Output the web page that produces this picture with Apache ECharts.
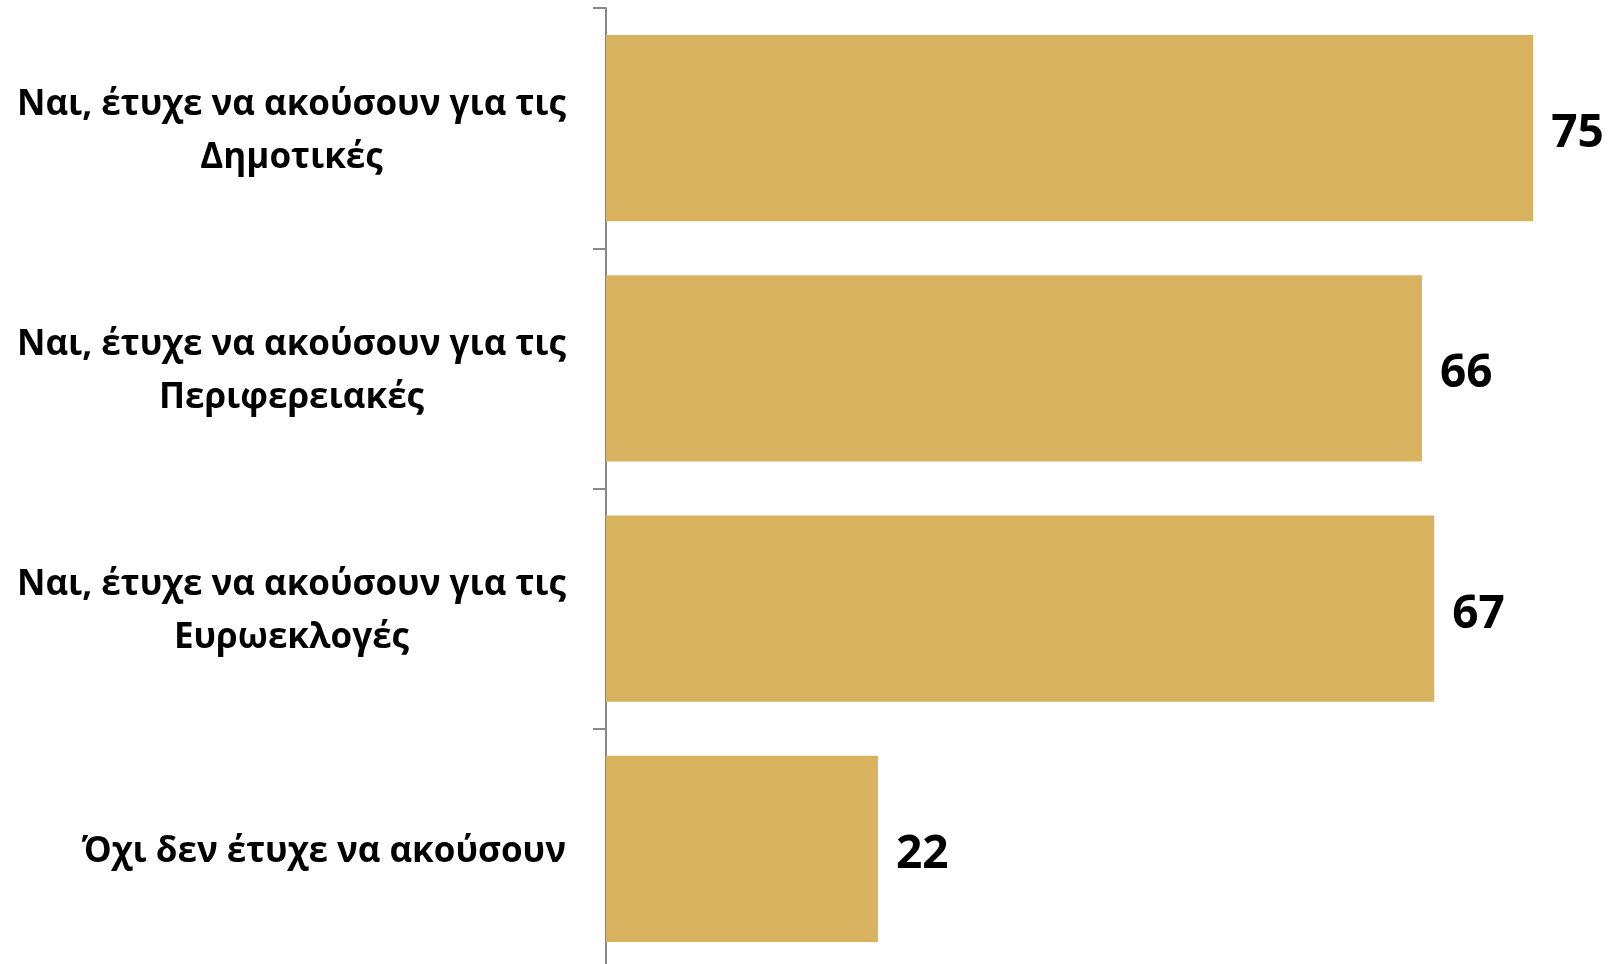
<!DOCTYPE html>
<html>
<head>
<meta charset="utf-8">
<script src="https://cdn.jsdelivr.net/npm/echarts@6/dist/echarts.min.js"></script>
<style>
html,body{margin:0;padding:0;background:#fff;overflow:hidden;width:1612px;height:964px;}
#chart{width:1612px;height:980px;}
</style>
</head>
<body>
<div id="chart"></div>
<script>
const categories = [
  'Ναι, έτυχε να ακούσουν για τις\nΔημοτικές',
  'Ναι, έτυχε να ακούσουν για τις\nΠεριφερειακές',
  'Ναι, έτυχε να ακούσουν για τις\nΕυρωεκλογές',
  'Όχι δεν έτυχε να ακούσουν'
];
const values = [75, 66, 67, 22];

const chart = echarts.init(document.getElementById('chart'));
chart.setOption({
  animation: false,
  backgroundColor: '#ffffff',
  grid: { left: 606, right: 17, top: 8, height: 961, containLabel: false },
  xAxis: {
    type: 'value', min: 0, max: 80, show: false
  },
  yAxis: {
    type: 'category',
    inverse: true,
    data: categories,
    axisLine: { show: true, lineStyle: { color: '#888888', width: 2 } },
    axisTick: { show: true, length: 13, lineStyle: { color: '#888888', width: 2 } },
    axisLabel: {
      margin: 40,
      align: 'right',
      padding: [6, 0, 0, 0],
      formatter: function (v) {
        return v.split('\n').map(s => '{c|' + s + '}').join('\n');
      },
      rich: {
        c: {
          align: 'center',
          fontFamily: 'Open Sans',
          fontWeight: 'bold',
          fontSize: 35,
          lineHeight: 53,
          color: '#000000'
        }
      }
    }
  },
  series: [{
    type: 'bar',
    data: values,
    barCategoryGap: '22.5%',
    itemStyle: { color: '#D9B25F' },
    label: {
      show: true,
      position: 'right',
      distance: 18,
      offset: [0, 6],
      fontFamily: 'Open Sans',
      fontWeight: 'bold',
      fontSize: 46,
      color: '#000000'
    }
  }]
});
</script>
</body>
</html>
